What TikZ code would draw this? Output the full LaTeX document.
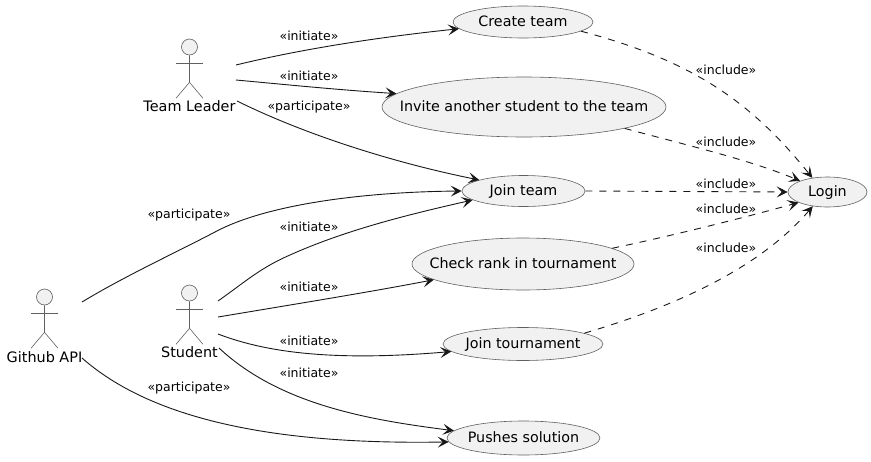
\documentclass[tikz,border=0pt]{standalone}
\usepackage{fontspec}
\setmainfont{DejaVu Sans}
\usetikzlibrary{arrows.meta, shapes.geometric}
\definecolor{usefill}{HTML}{F1F1F1}
\definecolor{useline}{HTML}{181818}
\definecolor{actorline}{HTML}{606060}
% keeps the text from widening the ellipse
\newcommand{\uctext}[1]{\raisebox{-4pt}[0pt][0pt]{\makebox[0pt]{#1}}}
\begin{document}
\begin{tikzpicture}[x=1pt, y=-1pt,
    >={Stealth[length=11pt, width=11pt, inset=5pt]},
    usecase/.style={ellipse, draw=actorline, line width=0.6pt, fill=usefill, inner sep=0pt, font=\fontsize{14.3}{16}\selectfont},
    head/.style={circle, draw=actorline, line width=0.6pt, fill=usefill, inner sep=0pt, minimum size=16pt},
    body/.style={draw=actorline, line width=0.6pt},
    actorname/.style={inner sep=0pt, font=\fontsize{14.4}{16}\selectfont},
    stereo/.style={inner sep=0pt, font=\fontsize{12.5}{14}\selectfont},
    link/.style={->, useline, line width=0.9pt},
    inc/.style={->, useline, line width=0.9pt, dash pattern=on 7pt off 7pt}]
  \useasboundingbox (0,0) rectangle (871,461);

  % use cases
  \node[usecase, minimum width=140pt, minimum height=32pt] (create) at (523,22) {\uctext{Create team}};
  \node[usecase, minimum width=284pt, minimum height=60pt] (invite) at (524,107) {\uctext{Invite another student to the team}};
  \node[usecase, minimum width=123pt, minimum height=31pt] (join) at (523.5,191) {\uctext{Join team}};
  \node[usecase, minimum width=222pt, minimum height=52pt] (rank) at (523,264) {\uctext{Check rank in tournament}};
  \node[usecase, minimum width=160pt, minimum height=33pt] (tournament) at (523,344) {\uctext{Join tournament}};
  \node[usecase, minimum width=153pt, minimum height=34pt] (pushes) at (523.5,438) {\uctext{Pushes solution}};
  \node[usecase, minimum width=79pt, minimum height=30pt] (login) at (827.5,192) {\uctext{Login}};

  % actor Team Leader
  \node[head] (leaderhead) at (189.5,47) {};
  \draw[body] (leaderhead.south) -- ++(0,27) coordinate (leaderhip) -- ++(-13.5,16);
  \draw[body] (leaderhip) -- ++(13.5,16);
  \draw[body] (176,63) -- (203,63);
  \node[actorname] (leader) at (189.5,106) {Team Leader};

  % actor Student
  \node[head] (studenthead) at (189.5,293) {};
  \draw[body] (studenthead.south) -- ++(0,27) coordinate (studenthip) -- ++(-13.5,16);
  \draw[body] (studenthip) -- ++(13.5,16);
  \draw[body] (176,309) -- (203,309);
  \node[actorname] (student) at (189.5,352) {Student};

  % actor Github API
  \node[head] (githubhead) at (44.5,297) {};
  \draw[body] (githubhead.south) -- ++(0,27) coordinate (githubhip) -- ++(-13.5,16);
  \draw[body] (githubhip) -- ++(13.5,16);
  \draw[body] (31,313) -- (58,313);
  \node[actorname] (github) at (44.5,357) {Github API};

  % free ends beside the actors
  \coordinate (leaderA) at (236,65);
  \coordinate (leaderB) at (236,80);
  \coordinate (leaderC) at (237,101);
  \coordinate (studentA) at (218,301);
  \coordinate (studentB) at (218,317);
  \coordinate (studentC) at (218,334);
  \coordinate (studentD) at (219,348);
  \coordinate (githubA) at (82,302);
  \coordinate (githubB) at (82,358);

  % solid connectors
  \draw[link] (leaderA) .. controls (310,47) and (390,36) .. (create.186.4);
  \draw[link] (leaderB) .. controls (290,85) and (340,90) .. (invite.174.8);
  \draw[link] (leaderC) .. controls (310,137) and (400,164) .. (join.166.7);
  \draw[link] (githubA) .. controls (125,276) and (175,253) .. (215,232) .. controls (265,205) and (360,192) .. (join.west);
  \draw[link] (studentA) .. controls (245,282) and (260,268) .. (290,255) .. controls (350,228) and (420,212) .. (join.190);
  \draw[link] (studentB) .. controls (290,305) and (370,292) .. (rank.190.9);
  \draw[link] (studentC) .. controls (270,354) and (340,361) .. (tournament.186.4);
  \draw[link] (studentD) .. controls (280,405) and (370,420) .. (pushes.174.8);
  \draw[link] (githubB) .. controls (150,418) and (270,445) .. (pushes.183);

  % dashed connectors
  \draw[inc] (create.-9) .. controls (690,60) and (750,100) .. (login.137);
  \draw[inc] (invite.-12.9) .. controls (690,146) and (750,160) .. (login.158.6);
  \draw[inc] (join.east) -- (login.west);
  \draw[inc] (rank.10.4) .. controls (680,234) and (750,216) .. (login.200.6);
  \draw[inc] (tournament.10.7) .. controls (690,302) and (765,262) .. (login.224);

  % labels
  \node[stereo] (lblcreate) at (309,36) {«initiate»};
  \node[stereo] (lblinvite) at (309,76) {«initiate»};
  \node[stereo] (lblleader) at (309,107) {«participate»};
  \node[stereo] (lblgithubjoin) at (189,215) {«participate»};
  \node[stereo] (lblstudentjoin) at (309,227) {«initiate»};
  \node[stereo] (lblrank) at (309,287) {«initiate»};
  \node[stereo] (lbltournament) at (309,341) {«initiate»};
  \node[stereo] (lblpushes) at (309,373) {«initiate»};
  \node[stereo] (lblgithubpushes) at (189,388) {«participate»};
  \node[stereo] (incA) at (726,70) {«include»};
  \node[stereo] (incB) at (726,142) {«include»};
  \node[stereo] (incC) at (726,184) {«include»};
  \node[stereo] (incD) at (726,209) {«include»};
  \node[stereo] (incE) at (726,248) {«include»};
\end{tikzpicture}
\end{document}
